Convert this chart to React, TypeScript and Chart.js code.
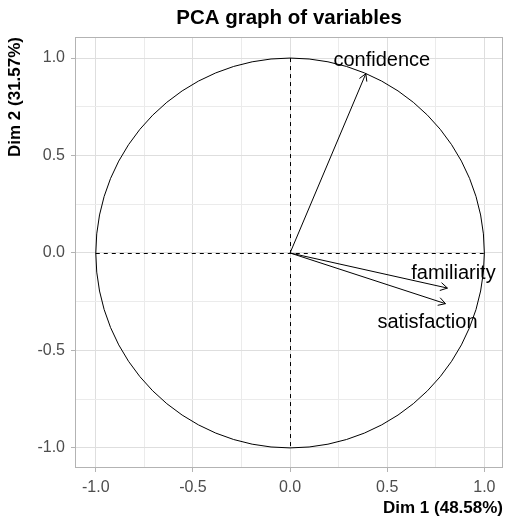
import { useEffect, useRef } from 'react';
import { Chart, registerables } from 'chart.js';

Chart.register(...registerables);

// ---- data ----
const variables = ['confidence', 'familiarity', 'satisfaction'];
const dim1 = [0.39, 0.81, 0.8];
const dim2 = [0.92, -0.18, -0.26];
const tickValues = [-1.0, -0.5, 0.0, 0.5, 1.0];
const chartTitle = 'PCA graph of variables';
const xTitle = 'Dim 1 (48.58%)';
const yTitle = 'Dim 2 (31.57%)';
const circleRadius = 1;

const FONT = '"Liberation Sans", Arial, Helvetica, sans-serif';

const gridValues: number[] = [];
tickValues.forEach((v, i) => {
  gridValues.push(v);
  if (i < tickValues.length - 1) gridValues.push((v + tickValues[i + 1]) / 2);
});
const isMajor = (v: number) => tickValues.some((t) => Math.abs(t - v) < 1e-9);

// label placement offsets (pixels, relative to arrow tip)
const labelOffsets: [number, number][] = [
  [16, -13],
  [6, -15],
  [-18, 19],
];

const pcaPlugin = {
  id: 'pcaDecor',
  beforeDatasetsDraw(chart: any) {
    const { ctx, chartArea, scales } = chart;
    const x = scales.x;
    const y = scales.y;
    ctx.save();
    // panel border
    ctx.strokeStyle = '#b3b3b3';
    ctx.lineWidth = 1;
    ctx.strokeRect(
      Math.round(chartArea.left) + 0.5,
      Math.round(chartArea.top) + 0.5,
      Math.round(chartArea.right - chartArea.left) - 1,
      Math.round(chartArea.bottom - chartArea.top) - 1
    );
    // correlation circle
    const cx = x.getPixelForValue(0);
    const cy = y.getPixelForValue(0);
    const rx = x.getPixelForValue(circleRadius) - cx;
    const ry = cy - y.getPixelForValue(circleRadius);
    ctx.beginPath();
    ctx.ellipse(cx, cy, rx, ry, 0, 0, Math.PI * 2);
    ctx.strokeStyle = '#000';
    ctx.lineWidth = 1;
    ctx.stroke();
    // dashed axes through the origin, spanning the circle
    const ax = Math.round(cx) + 0.5;
    const ay = Math.round(cy) + 0.5;
    ctx.setLineDash([4, 4]);
    ctx.beginPath();
    ctx.moveTo(x.getPixelForValue(-circleRadius), ay);
    ctx.lineTo(x.getPixelForValue(circleRadius), ay);
    ctx.moveTo(ax, y.getPixelForValue(circleRadius));
    ctx.lineTo(ax, y.getPixelForValue(-circleRadius));
    ctx.stroke();
    ctx.setLineDash([]);
    ctx.restore();
  },
  afterDatasetsDraw(chart: any) {
    const { ctx, scales } = chart;
    const x = scales.x;
    const y = scales.y;
    const x0 = x.getPixelForValue(0);
    const y0 = y.getPixelForValue(0);
    ctx.save();
    variables.forEach((name, i) => {
      const px = x.getPixelForValue(dim1[i]);
      const py = y.getPixelForValue(dim2[i]);
      const ang = Math.atan2(py - y0, px - x0);
      const len = 8;
      const spread = Math.PI / 6;
      ctx.beginPath();
      ctx.moveTo(px - len * Math.cos(ang - spread), py - len * Math.sin(ang - spread));
      ctx.lineTo(px, py);
      ctx.lineTo(px - len * Math.cos(ang + spread), py - len * Math.sin(ang + spread));
      ctx.strokeStyle = '#000';
      ctx.lineWidth = 1;
      ctx.stroke();
      // label
      ctx.fillStyle = '#000';
      ctx.font = `20px ${FONT}`;
      ctx.textAlign = 'center';
      ctx.textBaseline = 'middle';
      ctx.fillText(name, px + labelOffsets[i][0], py + labelOffsets[i][1]);
    });
    ctx.restore();
  },
};

const makeScale = (title: string, isX: boolean, min: number, max: number) => ({
  type: 'linear' as const,
  min,
  max,
  afterBuildTicks: (scale: any) => {
    scale.ticks = gridValues.map((v) => ({ value: v }));
  },
  afterFit: (scale: any) => {
    if (isX) scale.height = 52;
    else scale.width = 75;
  },
  ticks: {
    autoSkip: false,
    maxRotation: 0,
    minRotation: 0,
    padding: 6,
    color: '#4d4d4d',
    font: { family: FONT, size: 16 },
    callback: (v: any) => (isMajor(Number(v)) ? Number(v).toFixed(1) : ''),
  },
  grid: {
    color: (c: any) => (c.tick && isMajor(c.tick.value) ? '#dedede' : '#ebebeb'),
    lineWidth: 1,
    drawTicks: true,
    tickLength: 4,
    tickWidth: 1,
    tickColor: (c: any) => (c.tick && isMajor(c.tick.value) ? '#b3b3b3' : 'rgba(0,0,0,0)'),
  },
  border: { display: false },
  title: {
    display: true,
    text: title,
    align: 'end' as const,
    color: '#000',
    font: { family: FONT, size: 17, weight: 'bold' as const },
    padding: isX ? { top: 0, bottom: 1 } : { top: 5, bottom: 0 },
  },
});

export default function App() {
  const ref = useRef<HTMLCanvasElement | null>(null);
  useEffect(() => {
    if (!ref.current) return;
    const lineStyle = { borderColor: '#000', borderWidth: 1, pointRadius: 0, showLine: true, fill: false };
    const datasets: any[] = variables.map((name, i) => ({
      ...lineStyle,
      label: name,
      data: [
        { x: 0, y: 0 },
        { x: dim1[i], y: dim2[i] },
      ],
    }));
    const chart = new Chart(ref.current, {
      type: 'scatter',
      data: { datasets },
      options: {
        animation: false,
        responsive: false,
        devicePixelRatio: 1,
        layout: { padding: { left: 0, right: 7, top: 0, bottom: 0 } },
        plugins: {
          legend: { display: false },
          tooltip: { enabled: false },
          title: {
            display: true,
            text: chartTitle,
            color: '#000',
            fullSize: false,
            font: { family: FONT, size: 20.5, weight: 'bold' },
            padding: { top: 6, bottom: 6.4 },
          },
        },
        scales: {
          x: makeScale(xTitle, true, -1.107, 1.096),
          y: makeScale(yTitle, false, -1.103, 1.108),
        },
      } as any,
      plugins: [pcaPlugin],
    });
    return () => chart.destroy();
  }, []);
  return (
    <div style={{ position: 'fixed', left: 0, top: 0, width: 510, height: 520, background: '#fff' }}>
      <canvas ref={ref} width={510} height={520} style={{ display: 'block' }} />
    </div>
  );
}
